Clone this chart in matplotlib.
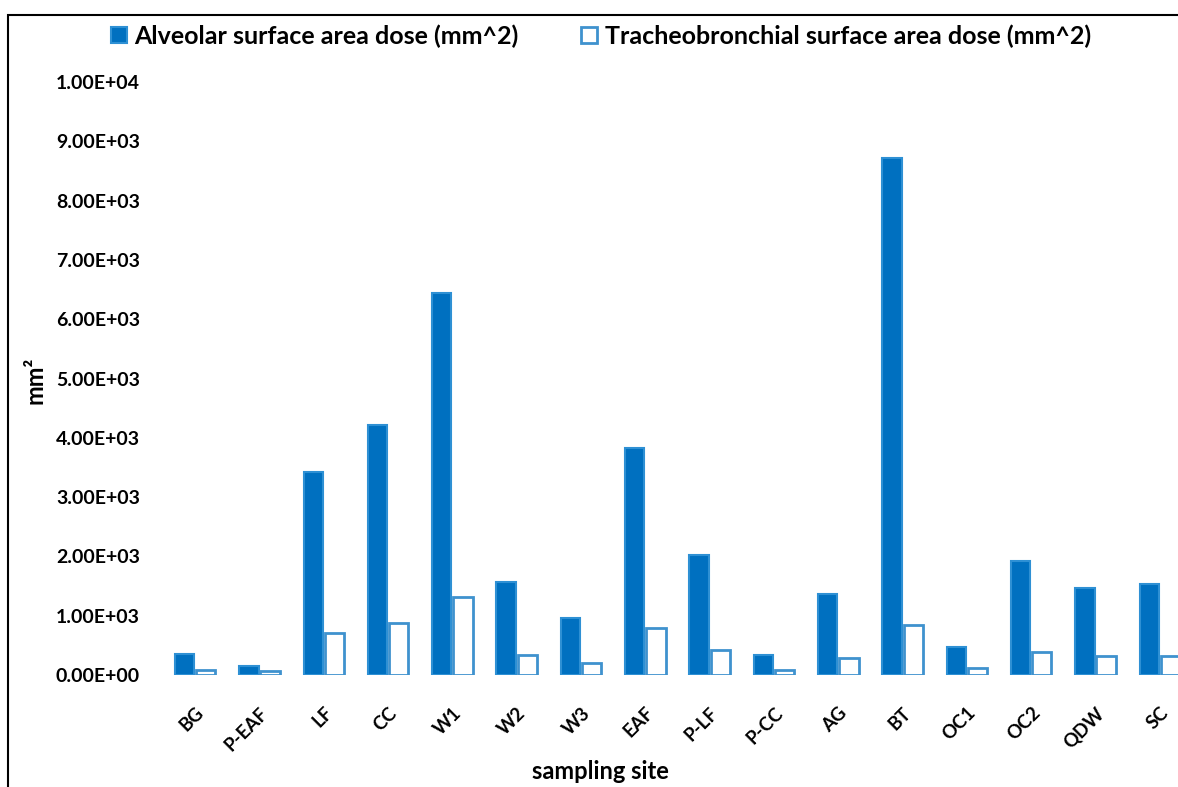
import matplotlib
matplotlib.use("Agg")
import matplotlib.pyplot as plt
import matplotlib.patches as patches
import numpy as np

plt.rcParams["font.family"] = ["Lato", "DejaVu Sans"]
plt.rcParams["font.weight"] = "bold"

sites = ["BG", "P-EAF", "LF", "CC", "W1", "W2", "W3", "EAF",
         "P-LF", "P-CC", "AG", "BT", "OC1", "OC2", "QDW", "SC"]
alveolar = [350, 150, 3430, 4220, 6440, 1570, 960, 3820,
            2020, 340, 1360, 8710, 480, 1930, 1460, 1530]
tracheo = [85, 60, 700, 870, 1310, 340, 200, 790,
           420, 80, 290, 840, 110, 390, 320, 320]
yticks = [0, 1000, 2000, 3000, 4000, 5000, 6000, 7000, 8000, 9000, 10000]

ALV_FACE = "#0070C0"
ALV_EDGE = "#2E90D4"
TB_EDGE = "#3F92CE"

W, H = 1178, 787
fig = plt.figure(figsize=(W / 100, H / 100), dpi=100)

# axes placed in pixels: groups span 163..1192 px, y=0 at 675 px, y=1e4 at 82 px
ax = fig.add_axes([163 / W, (H - 675) / H, 1029 / W, 593 / H])

x = np.arange(len(sites))
bw = 0.30
off = 0.165
ax.bar(x - off, alveolar, bw, color=ALV_FACE, edgecolor=ALV_EDGE, linewidth=1.5,
       label="Alveolar surface area dose (mm^2)")
ax.bar(x + off, tracheo, bw, color="white", edgecolor=TB_EDGE, linewidth=2.0,
       label="Tracheobronchial surface area dose (mm^2)")

ax.set_xlim(-0.5, 15.5)
ax.set_ylim(0, 10000)
ax.set_yticks(yticks)
ax.set_yticklabels([f"{v:.2E}" for v in yticks], fontsize=14, fontweight="bold")
ax.tick_params(axis="y", length=0, pad=16.5)

ax.set_xticks(x)
ax.set_xticklabels(sites, rotation=45, ha="right", rotation_mode="anchor",
                   fontsize=13.5, fontweight="bold")
ax.tick_params(axis="x", length=0, pad=21)

for spine in ax.spines.values():
    spine.set_visible(False)

ax.set_xlabel("sampling site", fontsize=17, fontweight="bold", va="baseline")
ax.xaxis.set_label_coords(0.425, -0.176)
ax.set_ylabel("mm²", fontsize=17, fontweight="bold", va="center")
ax.yaxis.set_label_coords(-0.124, 0.497)

leg = fig.legend(loc="center left", bbox_to_anchor=(111 / W, 1 - 36 / H), ncol=2,
                 frameon=False, fontsize=18, handlelength=0.64, handleheight=0.64,
                 handletextpad=0.3, columnspacing=2.5, borderpad=0,
                 borderaxespad=0)
for t in leg.get_texts():
    t.set_fontweight("bold")

# outer frame (cropped on right and bottom in the original)
frame = patches.Rectangle((8 / W, -0.1), 1.2, 1 - 15 / H + 0.1,
                          transform=fig.transFigure, fill=False,
                          edgecolor="black", linewidth=1.5)
fig.add_artist(frame)

fig.savefig("out.png", dpi=100, facecolor="white")
